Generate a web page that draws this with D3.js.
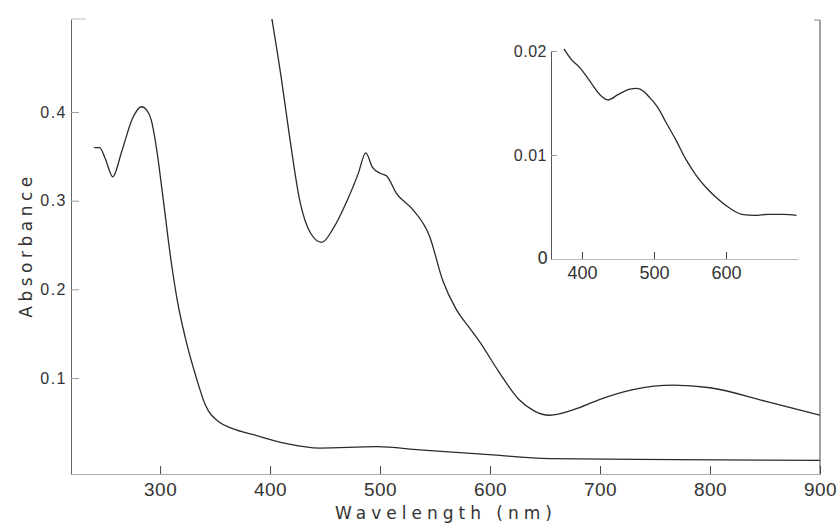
<!DOCTYPE html>
<html>
<head>
<meta charset="utf-8">
<script src="https://cdn.jsdelivr.net/npm/d3@7"></script>
<style>
  body { margin: 0; background: #fff; }
  svg { display: block; font-family: "DejaVu Sans", sans-serif; }
  .axis text { fill: #333; }
</style>
</head>
<body>
<div id="chart"></div>
<script>
// UV spectrum (lower curve), wavelength nm / absorbance
const uvWave = [240, 245, 250, 257, 265, 275, 283, 288, 292, 297, 302, 310, 316, 323, 333, 341, 354, 366, 385, 415, 445, 497, 536, 599, 654, 769, 900];
const uvAbs  = [0.36, 0.36, 0.348, 0.327, 0.355, 0.393, 0.406, 0.402, 0.391, 0.357, 0.31, 0.232, 0.185, 0.145, 0.1, 0.07, 0.05, 0.043, 0.036, 0.026, 0.021, 0.0225, 0.019, 0.0135, 0.009, 0.008, 0.007];

// visible spectrum (upper curve, expanded scale)
const visWave = [401, 410, 418, 427, 437, 447, 458, 470, 480, 487, 493, 500, 506, 515, 529, 545, 557, 569, 581, 590, 608, 626, 640, 654, 680, 700, 730, 767, 800, 850, 900];
const visAbs  = [0.51, 0.44, 0.37, 0.30, 0.263, 0.253, 0.27, 0.30, 0.33, 0.354, 0.338, 0.331, 0.328, 0.308, 0.291, 0.26, 0.21, 0.178, 0.157, 0.142, 0.107, 0.076, 0.063, 0.058, 0.066, 0.076, 0.087, 0.092, 0.089, 0.074, 0.058];

// inset spectrum
const insetWave = [375, 385, 397, 410, 425, 436, 450, 465, 476, 486, 493, 505, 517, 530, 545, 558, 572, 590, 605, 622, 640, 659, 680, 698];
const insetAbs  = [0.0202, 0.0192, 0.0184, 0.0172, 0.0158, 0.0153, 0.0158, 0.0163, 0.0164, 0.0161, 0.0156, 0.0146, 0.0131, 0.0115, 0.0095, 0.0081, 0.0069, 0.0057, 0.0049, 0.0043, 0.0042, 0.0043, 0.0043, 0.0042];

const xTicks = [300, 400, 500, 600, 700, 800, 900];
const yTicks = [0.1, 0.2, 0.3, 0.4];
const insetXTicks = [400, 500, 600];
const insetYTicks = [0.01, 0.02];

const W = 838, H = 524;
const svg = d3.select('#chart').append('svg')
    .attr('width', W)
    .attr('height', H);

// main plot
const x = d3.scaleLinear().domain([219, 900]).range([71, 820]);
const y = d3.scaleLinear().domain([-0.0083, 0.505]).range([474, 19]);

svg.append('clipPath').attr('id', 'clip')
    .append('rect').attr('x', 71).attr('y', 19).attr('width', 749).attr('height', 455);

const line = d3.line()
    .x(function (d) { return x(d[0]); })
    .y(function (d) { return y(d[1]); })
    .curve(d3.curveMonotoneX);

svg.append('path')
    .datum(d3.zip(uvWave, uvAbs))
    .attr('d', line)
    .attr('fill', 'none')
    .attr('stroke', '#2a2a2a')
    .attr('stroke-width', 1.3);

svg.append('path')
    .datum(d3.zip(visWave, visAbs))
    .attr('clip-path', 'url(#clip)')
    .attr('d', line)
    .attr('fill', 'none')
    .attr('stroke', '#2a2a2a')
    .attr('stroke-width', 1.3);

// x axis, ticks point up into the plot
const gx = svg.append('g')
    .attr('class', 'axis')
    .attr('transform', 'translate(0,474)')
    .call(d3.axisBottom(x).tickValues(xTicks).tickSizeInner(-8).tickSizeOuter(0).tickPadding(9));
gx.select('.domain').attr('stroke', '#aaa');
gx.selectAll('.tick line').attr('stroke', '#444');
gx.selectAll('text').attr('font-size', 19).attr('letter-spacing', 0.5);

// y axis
const gy = svg.append('g')
    .attr('class', 'axis')
    .attr('transform', 'translate(71,0)')
    .call(d3.axisLeft(y).tickValues(yTicks).tickFormat(d3.format('.1f')).tickSizeInner(-8).tickSizeOuter(0).tickPadding(4));
gy.select('.domain').attr('stroke', '#666');
gy.selectAll('.tick line').attr('stroke', '#999');
gy.selectAll('text').attr('font-size', 16).attr('letter-spacing', 1.5);

// right border and faint top stubs
svg.append('line')
    .attr('x1', 820).attr('x2', 820).attr('y1', 20).attr('y2', 474)
    .attr('stroke', '#444');
svg.append('line')
    .attr('x1', 71).attr('x2', 86).attr('y1', 19).attr('y2', 19)
    .attr('stroke', '#bbb');
svg.append('line')
    .attr('x1', 814).attr('x2', 820).attr('y1', 20).attr('y2', 20)
    .attr('stroke', '#888');

// axis titles
svg.append('text')
    .attr('transform', 'translate(32,245) rotate(-90)')
    .attr('text-anchor', 'middle')
    .attr('font-size', 17)
    .attr('letter-spacing', 4.5)
    .attr('fill', '#333')
    .text('Absorbance');

svg.append('text')
    .attr('x', 446).attr('y', 519)
    .attr('text-anchor', 'middle')
    .attr('font-size', 17)
    .attr('letter-spacing', 5)
    .attr('fill', '#333')
    .text('Wavelength (nm)');

// inset
const ix = d3.scaleLinear().domain([357, 700]).range([551, 798]);
const iy = d3.scaleLinear().domain([0, 0.02]).range([259, 51]);

const insetLine = d3.line()
    .x(function (d) { return ix(d[0]); })
    .y(function (d) { return iy(d[1]); })
    .curve(d3.curveMonotoneX);

svg.append('path')
    .datum(d3.zip(insetWave, insetAbs))
    .attr('d', insetLine)
    .attr('fill', 'none')
    .attr('stroke', '#2a2a2a')
    .attr('stroke-width', 1.3);

const igx = svg.append('g')
    .attr('class', 'axis')
    .attr('transform', 'translate(0,259)')
    .call(d3.axisBottom(ix).tickValues(insetXTicks).tickSizeInner(-7).tickSizeOuter(0).tickPadding(7));
igx.select('.domain').attr('stroke', '#bbb');
igx.selectAll('.tick line').attr('stroke', '#444');
igx.selectAll('text').attr('font-size', 18);

const igy = svg.append('g')
    .attr('class', 'axis')
    .attr('transform', 'translate(551,0)')
    .call(d3.axisLeft(iy).tickValues(insetYTicks).tickFormat(d3.format('.2f')).tickSizeInner(-6).tickSizeOuter(0).tickPadding(4));
igy.select('.domain').attr('stroke', '#555');
igy.selectAll('.tick line').attr('stroke', '#999');
igy.selectAll('text').attr('font-size', 16).attr('letter-spacing', 0.5);

svg.append('text')
    .attr('x', 548).attr('y', 259)
    .attr('dy', '0.32em')
    .attr('text-anchor', 'end')
    .attr('font-size', 17)
    .attr('fill', '#333')
    .text('0');
</script>
</body>
</html>
